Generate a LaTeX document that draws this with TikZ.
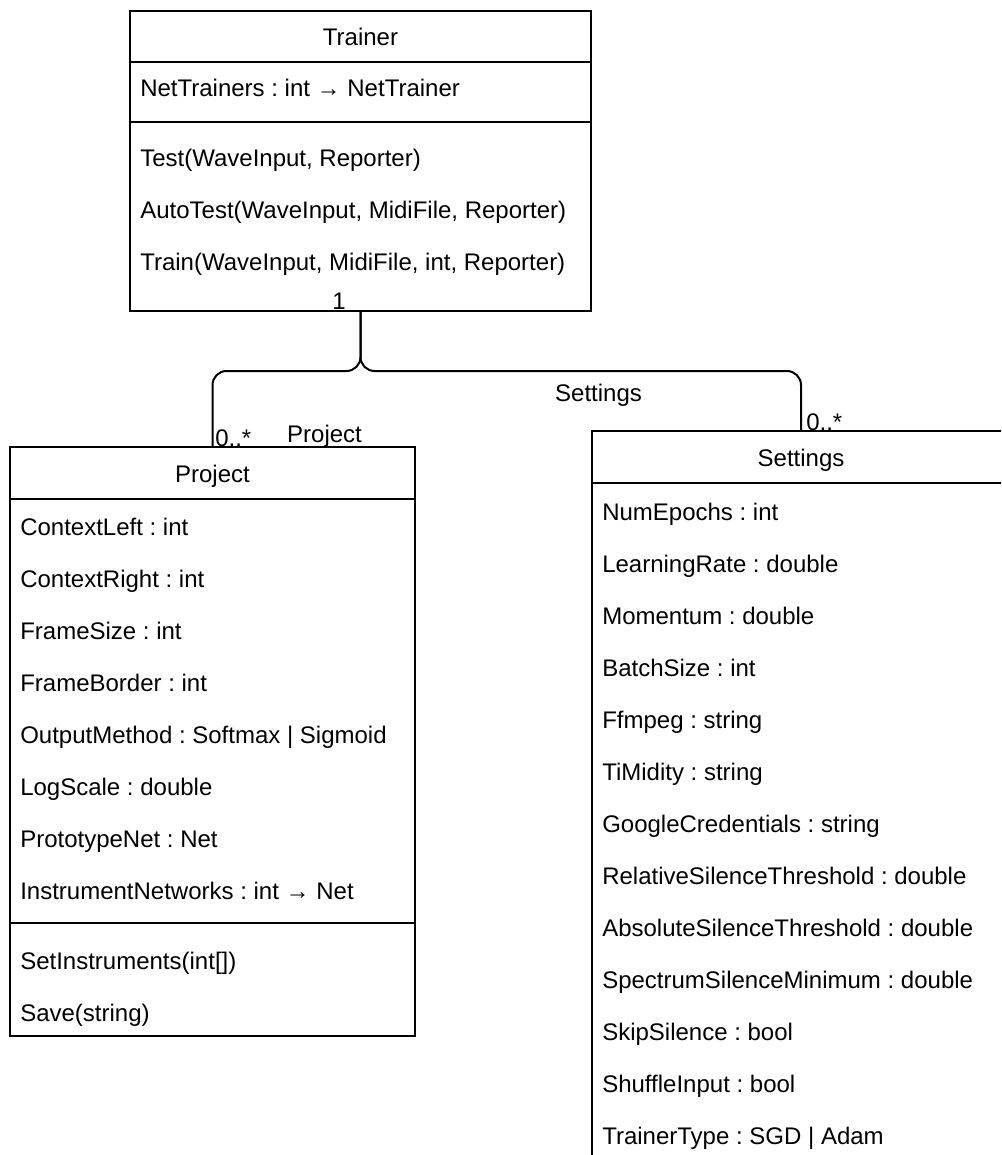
\documentclass[tikz,border=0pt]{standalone}
\usepackage{fontspec}
\setmainfont{Liberation Sans}
\frenchspacing
\begin{document}
\begin{tikzpicture}[x=0.75pt,y=-0.75pt,
  umlbox/.style={draw=black,line width=1.5pt,fill=white,inner sep=0pt,rectangle},
  divider/.style={draw=black,line width=1.5pt},
  attr/.style={anchor=base west,inner sep=0pt,font=\fontsize{18pt}{21.6pt}\selectfont},
  ttl/.style={anchor=base,inner sep=0pt,font=\fontsize{18pt}{21.6pt}\selectfont},
  lbl/.style={inner sep=0pt,font=\fontsize{18pt}{21.6pt}\selectfont},
  conn/.style={draw=black,line width=1.5pt,rounded corners=10.5pt}]
\useasboundingbox (0,0) rectangle (1001,1155);
\clip (0,0) rectangle (1001,1155);
\fill[white] (0,0) rectangle (1001,1155);

% Trainer
\node[umlbox,minimum width=345.75pt,minimum height=225pt] (trainer) at (360.5,161) {};
\draw[divider] (130,62) -- (591,62);
\draw[divider] (130,122) -- (591,122);
\node[ttl] (trainerT) at (360.5,46) {Trainer};
\node[attr] (tr1) at (140,97) {NetTrainers : int → NetTrainer};
\node[attr] (tr2) at (140,167) {Test(WaveInput, Reporter)};
\node[attr] (tr3) at (140,219) {AutoTest(WaveInput, MidiFile, Reporter)};
\node[attr] (tr4) at (140,271) {Train(WaveInput, MidiFile, int, Reporter)};

% Project
\node[umlbox,minimum width=303.75pt,minimum height=441.75pt] (project) at (212.5,741.5) {};
\draw[divider] (10,499) -- (415,499);
\draw[divider] (10,923) -- (415,923);
\node[ttl] (projectT) at (212.5,482) {Project};
\node[attr] (p1) at (20,535) {ContextLeft : int};
\node[attr] (p2) at (20,587) {ContextRight : int};
\node[attr] (p3) at (20,639) {FrameSize : int};
\node[attr] (p4) at (20,691) {FrameBorder : int};
\node[attr] (p5) at (20,743) {OutputMethod : Softmax | Sigmoid};
\node[attr] (p6) at (20,795) {LogScale : double};
\node[attr] (p7) at (20,847) {PrototypeNet : Net};
\node[attr] (p8) at (20,899) {InstrumentNetworks : int → Net};
\node[attr] (p9) at (20,969) {SetInstruments(int[])};
\node[attr] (p10) at (20,1021) {Save(string)};

% Settings
\node[umlbox,minimum width=313.5pt,minimum height=576.75pt] (settings) at (801,815.5) {};
\draw[divider] (592,483) -- (1010,483);
\node[ttl] (settingsT) at (801,466) {Settings};
\node[attr] (s1) at (602,520) {NumEpochs : int};
\node[attr] (s2) at (602,572) {LearningRate : double};
\node[attr] (s3) at (602,624) {Momentum : double};
\node[attr] (s4) at (602,676) {BatchSize : int};
\node[attr] (s5) at (602,728) {Ffmpeg : string};
\node[attr] (s6) at (602,780) {TiMidity : string};
\node[attr] (s7) at (602,832) {GoogleCredentials : string};
\node[attr] (s8) at (602,884) {RelativeSilenceThreshold : double};
\node[attr] (s9) at (602,936) {AbsoluteSilenceThreshold : double};
\node[attr] (s10) at (602,988) {SpectrumSilenceMinimum : double};
\node[attr] (s11) at (602,1040) {SkipSilence : bool};
\node[attr] (s12) at (602,1092) {ShuffleInput : bool};
\node[attr] (s13) at (602,1144) {TrainerType : SGD | Adam};

% Connectors
\coordinate (j) at (360.5,371);
\draw[conn] (trainer.south) -- (j) -- (j -| project.north) -- (project.north);
\draw[conn] (trainer.south) -- (j) -- (j -| settings.north) -- (settings.north);

% Labels
\node[lbl,anchor=base] (one) at (339,310) {1};
\node[lbl,anchor=base west] (m1) at (215,446) {0..*};
\node[lbl,anchor=base] (rp) at (324.5,442) {Project};
\node[lbl,anchor=base] (rs) at (598.5,401) {Settings};
\node[lbl,anchor=base west] (m2) at (806,430) {0..*};
\end{tikzpicture}
\end{document}
